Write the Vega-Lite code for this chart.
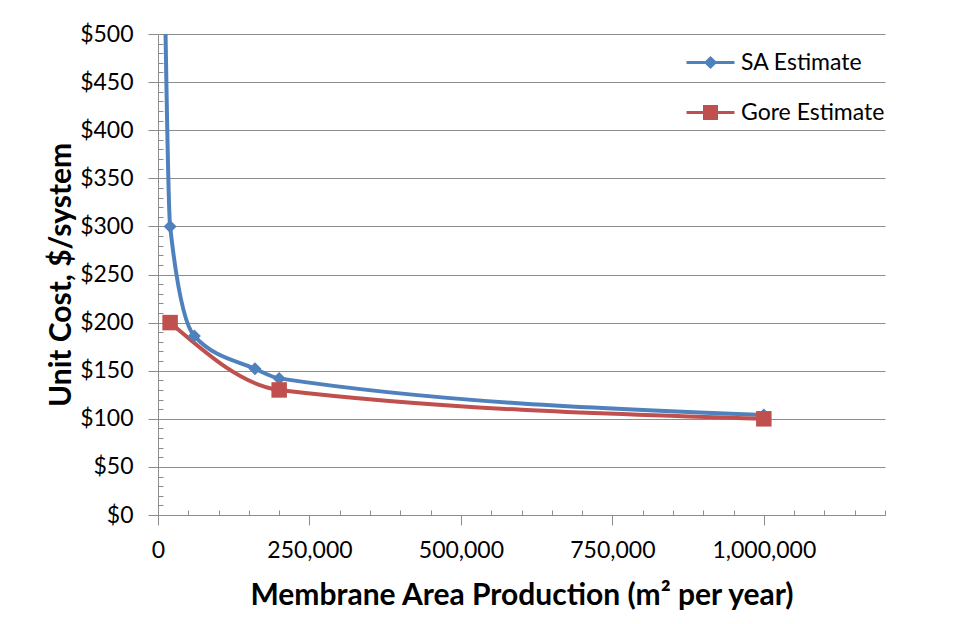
{
  "$schema": "https://vega.github.io/schema/vega-lite/v6.json",
  "width": 727,
  "height": 481,
  "autosize": {"type": "none"},
  "padding": {"left": 158, "top": 34, "right": 69, "bottom": 109},
  "background": "white",
  "config": {
    "font": "Lato",
    "view": {"stroke": null},
    "axis": {"labelFont": "Lato", "titleFont": "Lato", "labelColor": "#000", "titleColor": "#000", "domainColor": "#8c8c8c", "tickColor": "#8c8c8c", "gridColor": "#8c8c8c", "gridOpacity": 1}
  },
  "data": {
    "values": [
      {"series": "SA Estimate", "x": 10000, "y": 600},
      {"series": "SA Estimate", "x": 20000, "y": 300},
      {"series": "SA Estimate", "x": 60000, "y": 186},
      {"series": "SA Estimate", "x": 160000, "y": 152},
      {"series": "SA Estimate", "x": 200000, "y": 142},
      {"series": "SA Estimate", "x": 1000000, "y": 104},
      {"series": "Gore Estimate", "x": 20000, "y": 200},
      {"series": "Gore Estimate", "x": 200000, "y": 130},
      {"series": "Gore Estimate", "x": 1000000, "y": 100}
    ]
  },
  "resolve": {"axis": {"x": "independent", "y": "independent"}},
  "layer": [
    {
      "transform": [{"filter": "datum.series == 'SA Estimate'"}],
      "mark": {"type": "line", "interpolate": "monotone", "strokeWidth": 4, "clip": true, "color": "#4F81BD"},
      "encoding": {
        "x": {"field": "x", "type": "quantitative", "scale": {"domain": [0, 1200000], "nice": false, "zero": false},
          "axis": {"orient": "bottom", "values": [0, 250000, 500000, 750000, 1000000], "format": ",d", "labelFlush": false, "labelFontSize": 23, "labelPadding": 14, "tickSize": 10, "grid": false,
            "title": "Membrane Area Production (m² per year)", "titleFontSize": 30, "titleFontWeight": "bold", "titlePadding": 18}},
        "y": {"field": "y", "type": "quantitative", "scale": {"domain": [0, 500], "nice": false, "zero": false},
          "axis": {"orient": "left", "values": [0, 50, 100, 150, 200, 250, 300, 350, 400, 450, 500], "format": "$.0f", "labelFontSize": 23, "labelPadding": 15, "tickSize": 10, "grid": true,
            "title": "Unit Cost, $/system", "titleFontSize": 30, "titleFontWeight": "bold", "titlePadding": 3}}
      }
    },
    {
      "transform": [{"filter": "datum.series == 'Gore Estimate'"}],
      "mark": {"type": "line", "interpolate": "monotone", "strokeWidth": 4, "clip": true, "color": "#C0504D"},
      "encoding": {
        "x": {"field": "x", "type": "quantitative", "axis": null},
        "y": {"field": "y", "type": "quantitative", "axis": null}
      }
    },
    {
      "transform": [{"filter": "datum.series == 'SA Estimate'"}],
      "mark": {"type": "point", "shape": "diamond", "filled": true, "size": 170, "opacity": 1, "color": "#4F81BD", "clip": true},
      "encoding": {
        "x": {"field": "x", "type": "quantitative",
          "axis": {"orient": "bottom", "values": [50000, 100000, 150000, 200000, 300000, 350000, 400000, 450000, 550000, 600000, 650000, 700000, 800000, 850000, 900000, 950000, 1050000, 1100000, 1150000, 1200000], "labels": false, "domain": false, "grid": false, "tickSize": -5, "title": null}},
        "y": {"field": "y", "type": "quantitative",
          "axis": {"orient": "left", "values": [10, 20, 30, 40, 60, 70, 80, 90, 110, 120, 130, 140, 160, 170, 180, 190, 210, 220, 230, 240, 260, 270, 280, 290, 310, 320, 330, 340, 360, 370, 380, 390, 410, 420, 430, 440, 460, 470, 480, 490], "labels": false, "domain": false, "grid": false, "tickSize": -5, "title": null}}
      }
    },
    {
      "transform": [{"filter": "datum.series == 'Gore Estimate'"}],
      "mark": {"type": "point", "shape": "square", "filled": true, "size": 240, "opacity": 1, "color": "#C0504D", "clip": true},
      "encoding": {
        "x": {"field": "x", "type": "quantitative", "axis": null},
        "y": {"field": "y", "type": "quantitative", "axis": null}
      }
    },
    {
      "transform": [{"filter": "datum.y > 500"}],
      "mark": {"type": "point", "filled": true, "opacity": 1, "strokeWidth": 3, "clip": true},
      "encoding": {
        "x": {"field": "x", "type": "quantitative", "axis": null},
        "y": {"field": "y", "type": "quantitative", "axis": null},
        "fill": {"field": "series", "type": "nominal", "scale": {"domain": ["SA Estimate", "Gore Estimate"], "range": ["#4F81BD", "#C0504D"]}, "title": null},
        "stroke": {"field": "series", "type": "nominal", "scale": {"domain": ["SA Estimate", "Gore Estimate"], "range": ["#4F81BD", "#C0504D"]}, "title": null},
        "shape": {"field": "series", "type": "nominal", "scale": {"domain": ["SA Estimate", "Gore Estimate"], "range": ["M-2.4,0H2.4M0,-0.45L0.45,0L0,0.45L-0.45,0Z", "M-2.4,0H2.4M-0.6,-0.6H0.6V0.6H-0.6Z"]}, "title": null,
          "legend": {"orient": "none", "legendX": 541, "legendY": 17, "labelFontSize": 23, "labelFont": "Lato", "labelColor": "#000", "symbolSize": 400, "symbolStrokeWidth": 3, "symbolOpacity": 1, "labelOffset": 19, "rowPadding": 25, "padding": 0}}
      }
    }
  ]
}
